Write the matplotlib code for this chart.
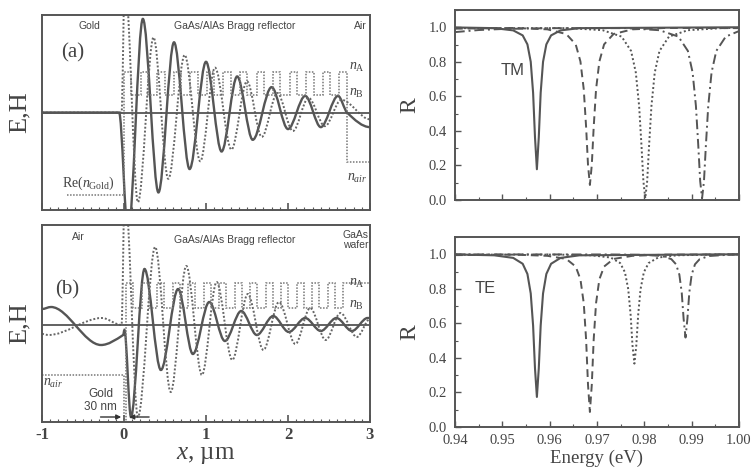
import matplotlib
matplotlib.use('Agg')
import matplotlib.pyplot as plt
import numpy as np
from matplotlib.path import Path
from matplotlib.patches import PathPatch
from matplotlib.ticker import MultipleLocator, FormatStrFormatter

plt.rcParams['mathtext.fontset'] = 'custom'
plt.rcParams['mathtext.rm'] = 'Liberation Serif'
plt.rcParams['mathtext.it'] = 'Liberation Serif:italic'
plt.rcParams['axes.unicode_minus'] = False

# ---------------- field profiles (extrema) ----------------
# panel (a): gold / Bragg reflector / air
sol_a_x = [-1.0, -0.06, 0.05, 0.23, 0.42, 0.61, 0.80, 1.00, 1.19, 1.38, 1.57,
           1.80, 2.00, 2.21, 2.40, 2.61, 2.72, 3.0]
sol_a_y = [0.0, 0.0, -1.25, 0.96, -0.82, 0.72, -0.58, 0.52, -0.40, 0.37, -0.28,
           0.26, -0.17, 0.17, -0.15, 0.17, 0.0, -0.15]
dot_a_x = [-1.0, -0.03, 0.01, 0.17, 0.36, 0.54, 0.74, 0.93, 1.11, 1.31, 1.50,
           1.68, 1.87, 2.06, 2.25, 2.45, 2.65, 3.0]
dot_a_y = [0.0, 0.0, 1.4, -0.92, 0.77, -0.68, 0.59, -0.50, 0.46, -0.38, 0.32,
           -0.25, 0.20, -0.19, 0.15, -0.14, 0.13, -0.07]

# panel (b): air / gold 30 nm / Bragg reflector / GaAs wafer
sol_b_x = [-1.0, -0.89, -0.28, -0.01, 0.005, 0.085, 0.25, 0.45, 0.66, 0.84, 1.04,
           1.23, 1.43, 1.62, 1.82, 2.01, 2.21, 2.40, 2.59, 2.78, 2.97, 3.0]
sol_b_y = [0.16, 0.18, -0.20, -0.10, -0.05, -0.92, 0.56, -0.45, 0.36, -0.29, 0.23,
           -0.16, 0.14, -0.10, 0.09, -0.07, 0.07, -0.06, 0.07, -0.06, 0.07, 0.07]
dot_b_x = [-1.0, -0.92, -0.27, -0.03, 0.01, 0.17, 0.38, 0.57, 0.76, 0.95, 1.13,
           1.32, 1.51, 1.70, 1.89, 2.09, 2.27, 2.46, 2.64, 2.84, 3.0]
dot_b_y = [-0.09, -0.10, 0.07, 0.0, 1.4, -0.92, 0.78, -0.67, 0.59, -0.50, 0.43,
           -0.35, 0.31, -0.25, 0.23, -0.19, 0.17, -0.15, 0.12, -0.12, 0.06]

# refractive index profile levels (plotted on the same arbitrary scale)
n_lvl_a = {'gold': -0.85, 'A': 0.42, 'B': 0.18, 'air': -0.51}
n_lvl_b = {'gold': -1.3, 'A': 0.42, 'B': 0.17, 'air': -0.50}
d_lay_a = {'A': 0.09, 'B': 0.112}
d_lay_b = {'A': 0.085, 'B': 0.104}
layers_a = ['A', 'B'] * 13 + ['A']
layers_b = ['A', 'B'] * 14

# ---------------- reflectivity spectra ----------------
E_sol = [0.940, 0.9483, 0.9523, 0.9543, 0.9553, 0.9560, 0.9565, 0.9569, 0.9573,
         0.9577, 0.9581, 0.9586, 0.9593, 0.9603, 0.9623, 0.9663, 1.000]
E_dash = [0.940, 0.9525, 0.9595, 0.9635, 0.9655, 0.9665, 0.9672, 0.9677, 0.9681,
          0.9685, 0.9689, 0.9693, 0.9698, 0.9705, 0.9715, 0.9735, 0.9775, 0.9845, 1.000]
E_dot_tm = [0.940, 0.9642, 0.9712, 0.9752, 0.9772, 0.9782, 0.9789, 0.9794, 0.9798,
            0.9802, 0.9806, 0.9810, 0.9815, 0.9822, 0.9832, 0.9852, 0.9892, 0.9962, 1.000]
E_dd_tm = [0.940, 0.945, 0.950, 0.960, 0.9762, 0.9832, 0.9872, 0.9892, 0.9902, 0.9909,
           0.9914, 0.9918, 0.9922, 0.9926, 0.9930, 0.9935, 0.9942, 0.9952, 0.9972, 1.000]
E_dot_te = [0.940, 0.9619, 0.9689, 0.9729, 0.9749, 0.9759, 0.9766, 0.9771, 0.9775,
            0.9779, 0.9783, 0.9787, 0.9792, 0.9799, 0.9809, 0.9829, 0.9869, 0.9939, 1.000]
E_dd_te = [0.940, 0.9727, 0.9797, 0.9837, 0.9857, 0.9867, 0.9874, 0.9879, 0.9883,
           0.9887, 0.9891, 0.9895, 0.9900, 0.9907, 0.9917, 0.9937, 0.9977, 1.000]

R_tm_sol = [0.999, 0.995, 0.982, 0.953, 0.901, 0.800, 0.621, 0.363, 0.178,
            0.363, 0.621, 0.800, 0.901, 0.953, 0.982, 0.995, 1.000]
R_tm_dash = [0.992, 0.996, 0.988, 0.961, 0.901, 0.802, 0.641, 0.422, 0.203, 0.087,
             0.203, 0.422, 0.641, 0.802, 0.901, 0.961, 0.988, 0.996, 0.995]
R_tm_dot = [0.995, 0.995, 0.983, 0.946, 0.863, 0.738, 0.544, 0.314, 0.109, 0.01,
            0.109, 0.314, 0.544, 0.738, 0.863, 0.946, 0.983, 0.995, 0.997]
R_tm_dd = [0.972, 0.984, 0.990, 0.995, 0.995, 0.983, 0.946, 0.863, 0.738, 0.544,
           0.314, 0.109, 0.01, 0.109, 0.314, 0.544, 0.738, 0.863, 0.946, 0.978]

R_te_sol = [0.999, 0.994, 0.979, 0.945, 0.886, 0.773, 0.587, 0.339, 0.174,
            0.339, 0.587, 0.773, 0.886, 0.945, 0.979, 0.994, 1.000]
R_te_dash = [0.995, 0.998, 0.991, 0.973, 0.929, 0.855, 0.717, 0.506, 0.245, 0.087,
             0.245, 0.506, 0.717, 0.855, 0.929, 0.973, 0.991, 0.998, 0.999]
R_te_dot = [0.998, 0.998, 0.994, 0.981, 0.949, 0.896, 0.798, 0.650, 0.472, 0.367,
            0.472, 0.650, 0.798, 0.896, 0.949, 0.981, 0.994, 0.998, 0.999]
R_te_dd = [0.999, 0.999, 0.997, 0.990, 0.972, 0.942, 0.882, 0.778, 0.626, 0.518,
           0.626, 0.778, 0.882, 0.942, 0.972, 0.990, 0.997, 0.999]

gray = '#555555'
txt = '#444444'
serif = 'Liberation Serif'
sans = 'Liberation Sans'


def smooth_path(xs, ys):
    # cubic Hermite segments, flat at the extrema
    n = len(xs)
    s = []
    for i in range(n):
        if i == 0 or i == n - 1 or (ys[i] - ys[i - 1]) * (ys[i + 1] - ys[i]) <= 0:
            s.append(0.0)
        else:
            s.append((ys[i + 1] - ys[i - 1]) / (xs[i + 1] - xs[i - 1]))
    verts = [(xs[0], ys[0])]
    codes = [Path.MOVETO]
    for i in range(n - 1):
        h = (xs[i + 1] - xs[i]) / 3
        verts += [(xs[i] + h, ys[i] + s[i] * h), (xs[i + 1] - h, ys[i + 1] - s[i + 1] * h),
                  (xs[i + 1], ys[i + 1])]
        codes += [Path.CURVE4] * 3
    return Path(verts, codes)


def stack_edges(x0, layers, d):
    return x0 + np.concatenate([[0], np.cumsum([d[k] for k in layers])])


fig = plt.figure(figsize=(7.53, 4.74), dpi=100)
ax_a = fig.add_axes([42 / 753, 1 - 210 / 474, 328 / 753, 195 / 474])
ax_b = fig.add_axes([42 / 753, 1 - 422 / 474, 328 / 753, 197 / 474])
ax_tm = fig.add_axes([455 / 753, 1 - 200 / 474, 284 / 753, 190 / 474])
ax_te = fig.add_axes([455 / 753, 1 - 427 / 474, 284 / 753, 190 / 474])

for ax in (ax_a, ax_b, ax_tm, ax_te):
    for sp in ax.spines.values():
        sp.set_color(gray)
        sp.set_linewidth(1.4)

# ---- left panels ----
for ax in (ax_a, ax_b):
    ax.set_xlim(-1, 3)
    ax.set_yticks([])
    ax.xaxis.set_major_locator(MultipleLocator(1))
    ax.xaxis.set_minor_locator(MultipleLocator(0.1))
    ax.tick_params(axis='x', which='both', direction='in', color=gray)
    ax.tick_params(axis='x', which='major', length=5, width=1.2)
    ax.tick_params(axis='x', which='minor', length=2.5, width=0.8)
    ax.axhline(0, color=gray, lw=1.3)
    ax.set_ylabel('E,H', family=serif, fontsize=19, color=txt, labelpad=8)

ax_a.set_ylim(-1, 1)
ax_b.set_ylim(-0.97, 1.0)
ax_a.tick_params(labelbottom=False)
ax_b.tick_params(axis='x', labelsize=12, labelcolor=txt)
for lb in ax_b.get_xticklabels():
    lb.set_family(serif)
    lb.set_weight('bold')
ax_b.set_xlabel(r'$x$, µm', family=serif, fontsize=18, color=txt, labelpad=1)

ax_a.add_patch(PathPatch(smooth_path(sol_a_x, sol_a_y), fill=False, ec=gray, lw=1.7))
ax_a.add_patch(PathPatch(smooth_path(dot_a_x, dot_a_y), fill=False, ec='#666666',
                         lw=1.4, ls=(0, (1, 1))))
ax_b.add_patch(PathPatch(smooth_path(sol_b_x, sol_b_y), fill=False, ec=gray, lw=1.7))
ax_b.add_patch(PathPatch(smooth_path(dot_b_x, dot_b_y), fill=False, ec='#666666',
                         lw=1.4, ls=(0, (1, 1))))

# index profiles
edges_a = np.concatenate([[-0.70], stack_edges(0.0, layers_a, d_lay_a), [3.0]])
vals_a = [n_lvl_a['gold']] + [n_lvl_a[k] for k in layers_a] + [n_lvl_a['air']]
ax_a.stairs(vals_a, edges_a, baseline=None, color='#777777', lw=1.1, ls=(0, (1, 1)))
edges_b = np.concatenate([[-1.0, 0.0], stack_edges(0.03, layers_b, d_lay_b), [3.0]])
vals_b = [n_lvl_b['air'], n_lvl_b['gold']] + [n_lvl_b[k] for k in layers_b] + [n_lvl_b['A']]
ax_b.stairs(vals_b, edges_b, baseline=None, color='#777777', lw=1.1, ls=(0, (1, 1)))

for ax, t, x, y, ha in [(ax_a, 'Gold', 0.146, 0.945, 'center'),
                        (ax_a, 'GaAs/AlAs Bragg reflector', 0.588, 0.945, 'center'),
                        (ax_a, 'Air', 0.99, 0.945, 'right'),
                        (ax_b, 'Air', 0.11, 0.94, 'center'),
                        (ax_b, 'GaAs/AlAs Bragg reflector', 0.588, 0.925, 'center'),
                        (ax_b, 'GaAs\nwafer', 0.995, 0.925, 'right')]:
    ax.text(x, y, t, transform=ax.transAxes, ha=ha, va='center', family=sans,
            fontsize=7.5, color=txt, linespacing=1.0)

ax_a.text(0.095, 0.805, '(a)', transform=ax_a.transAxes, ha='center', va='center',
          family=serif, fontsize=15, color=txt)
ax_b.text(0.076, 0.67, '(b)', transform=ax_b.transAxes, ha='center', va='center',
          family=serif, fontsize=15, color=txt)

for ax, t, x, y in [(ax_a, r'$n_{\mathrm{A}}$', 0.96, 0.733),
                    (ax_a, r'$n_{\mathrm{B}}$', 0.96, 0.60),
                    (ax_a, r'$n_{air}$', 0.96, 0.164),
                    (ax_b, r'$n_{\mathrm{A}}$', 0.96, 0.706),
                    (ax_b, r'$n_{\mathrm{B}}$', 0.96, 0.594),
                    (ax_b, r'$n_{air}$', 0.034, 0.198)]:
    ax.text(x, y, t, transform=ax.transAxes, ha='center', va='center',
            fontsize=10, color=txt)
ax_a.text(0.14, 0.135, r'Re($n_{\mathrm{Gold}}$)', transform=ax_a.transAxes,
          ha='center', va='center', family=serif, fontsize=10, color=txt)

ax_b.text(0.18, 0.14, 'Gold', transform=ax_b.transAxes, ha='center', va='center',
          family=sans, fontsize=8.5, color=txt)
ax_b.text(0.178, 0.075, '30 nm', transform=ax_b.transAxes, ha='center', va='center',
          family=sans, fontsize=8.5, color=txt)
ax_b.annotate('', xy=(0.0, -0.92), xytext=(-0.32, -0.92),
              arrowprops=dict(arrowstyle='-|>', color='#333333', lw=1.0, mutation_scale=7))
ax_b.annotate('', xy=(0.03, -0.92), xytext=(0.34, -0.92),
              arrowprops=dict(arrowstyle='-|>', color='#333333', lw=1.0, mutation_scale=7))

# ---- right panels ----
sty = {'sol': dict(ls='-', lw=1.5), 'dash': dict(ls=(0, (4, 2.5)), lw=1.4),
       'dot': dict(ls=(0, (1, 1.3)), lw=1.4), 'dd': dict(ls=(0, (5, 2, 1, 2)), lw=1.4)}
for ax, curves, name, pos in [
        (ax_tm, [(E_sol, R_tm_sol, 'sol'), (E_dash, R_tm_dash, 'dash'),
                 (E_dot_tm, R_tm_dot, 'dot'), (E_dd_tm, R_tm_dd, 'dd')], 'TM', (0.204, 0.684)),
        (ax_te, [(E_sol, R_te_sol, 'sol'), (E_dash, R_te_dash, 'dash'),
                 (E_dot_te, R_te_dot, 'dot'), (E_dd_te, R_te_dd, 'dd')], 'TE', (0.106, 0.73))]:
    for E, R, k in curves:
        ax.plot(E, R, color=gray, **sty[k])
    ax.set_xlim(0.94, 1.0)
    ax.set_ylim(0, 1.1)
    ax.xaxis.set_major_locator(MultipleLocator(0.01))
    ax.xaxis.set_minor_locator(MultipleLocator(0.005))
    ax.yaxis.set_major_locator(MultipleLocator(0.2))
    ax.yaxis.set_minor_locator(MultipleLocator(0.1))
    ax.yaxis.set_major_formatter(FormatStrFormatter('%.1f'))
    ax.xaxis.set_major_formatter(FormatStrFormatter('%.2f'))
    ax.tick_params(which='both', direction='in', color=gray, labelsize=10.5, labelcolor=txt)
    ax.tick_params(axis='y', pad=6)
    ax.tick_params(axis='x', pad=5)
    ax.tick_params(which='major', length=4, width=1.0)
    ax.tick_params(which='minor', length=2, width=0.8)
    for lb in ax.get_xticklabels() + ax.get_yticklabels():
        lb.set_family(serif)
    ax.set_ylabel('R', family=serif, fontsize=17, color=txt, labelpad=6)
    ax.text(pos[0], pos[1], name, transform=ax.transAxes, ha='center', va='center',
            family=sans, fontsize=12, color=txt)

ax_tm.tick_params(labelbottom=False)
ax_te.set_xlabel('Energy (eV)', family=serif, fontsize=13.5, color=txt, labelpad=2)

fig.savefig('out.png', dpi=100)
